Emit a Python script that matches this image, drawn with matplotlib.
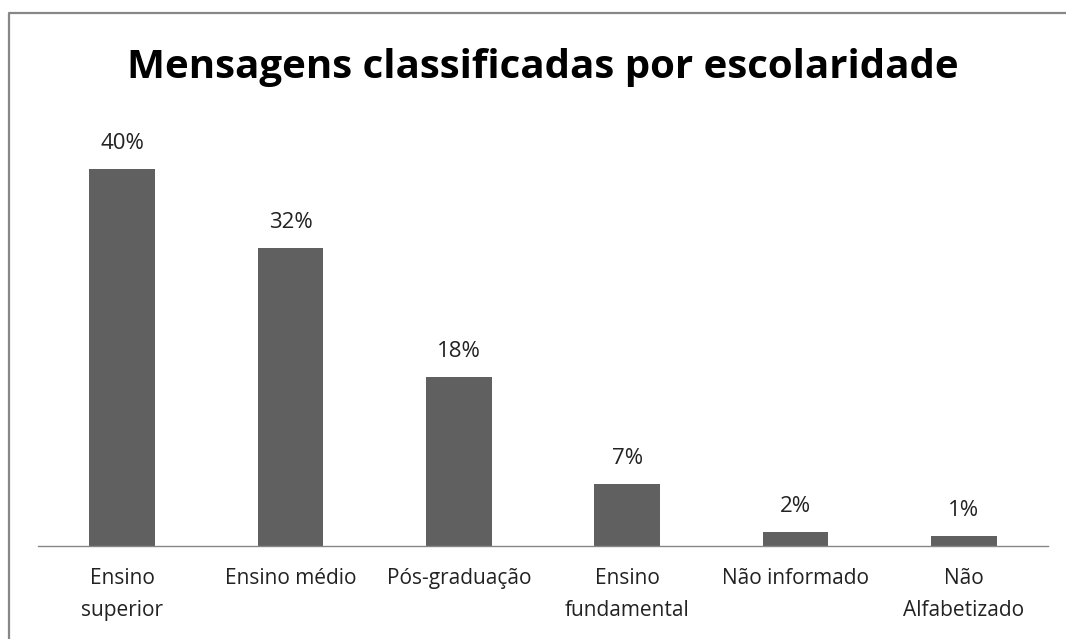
import matplotlib
matplotlib.use("Agg")
import matplotlib.pyplot as plt
from matplotlib.lines import Line2D

# data (bar heights, labels shown rounded)
categories = ["Ensino\nsuperior", "Ensino médio", "Pós-graduação",
              "Ensino\nfundamental", "Não informado", "Não\nAlfabetizado"]
shares = [40.0, 31.6, 17.9, 6.6, 1.5, 1.05]
title = "Mensagens classificadas por escolaridade"

W, H = 1066, 639
fig = plt.figure(figsize=(W / 100, H / 100), dpi=100)
plt.rcParams['font.family'] = ['Open Sans', 'DejaVu Sans']

# axes placed in pixel terms: baseline at y=546, top at y=150
left, right, base, top = 38, 1048, 546, 150
ax = fig.add_axes([left / W, (H - base) / H, (right - left) / W, (base - top) / H])

x = range(len(categories))
bars = ax.bar(x, shares, width=0.39, color="#606060")
ax.set_xlim(-0.5, len(categories) - 0.5)
ax.set_ylim(0, 42)

for b, v in zip(bars, shares):
    ax.annotate(f"{v:.0f}%", (b.get_x() + b.get_width() / 2, b.get_height()),
                xytext=(0, 14.4), textcoords="offset points",
                ha="center", va="baseline", fontsize=16, color="#222222")

ax.set_xticks(list(x))
ax.set_xticklabels(categories, fontsize=15, color="#222222", linespacing=1.7)
ax.tick_params(axis="x", length=0, pad=16)
ax.set_yticks([])
for s in ["left", "right", "top"]:
    ax.spines[s].set_visible(False)
ax.spines["bottom"].set_color("#868686")
ax.spines["bottom"].set_linewidth(1)

fig.text(543 / W, 1 - 78 / H, title, ha="center", va="baseline",
         fontsize=29, fontweight="bold", color="black")

# frame of the original chart, cut off on the right and bottom
fig.add_artist(Line2D([9 / W, 9 / W, 1.0], [0.0, 1 - 13 / H, 1 - 13 / H],
                      transform=fig.transFigure, color="#878787", lw=1.6))

fig.savefig("out.png", dpi=100)
